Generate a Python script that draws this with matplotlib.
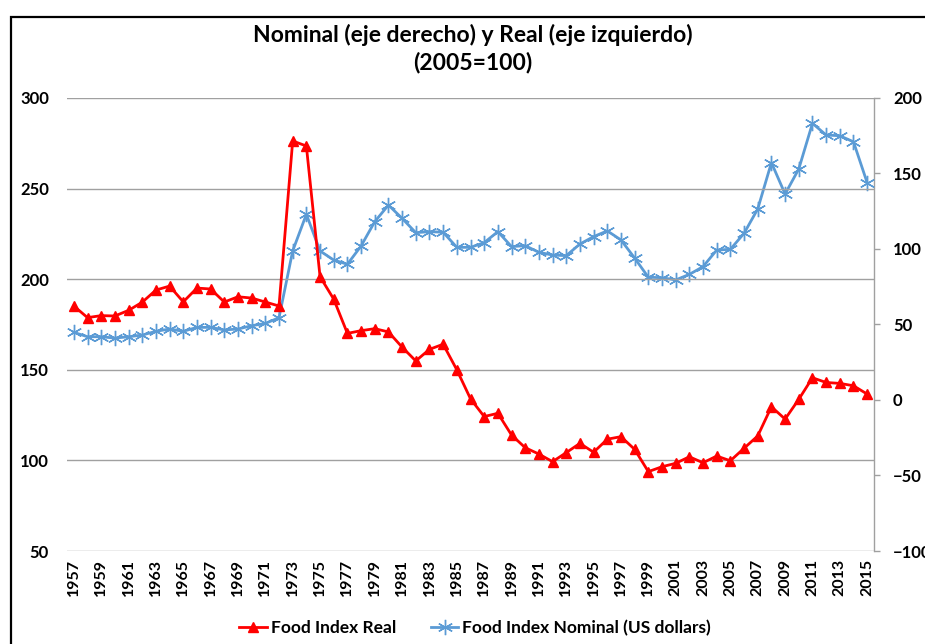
import matplotlib
matplotlib.use("Agg")
import matplotlib.pyplot as plt
from matplotlib.lines import Line2D
from matplotlib.patches import Rectangle

plt.rcParams['font.family'] = ['Lato', 'DejaVu Sans']

years = list(range(1957, 2016))

food_index_real = [
    185.2, 178.8, 179.9, 179.7, 182.8, 187.3, 194.0, 196.2, 187.5, 195.1,
    194.6, 187.4, 190.3, 189.6, 187.4, 185.2, 276.3, 273.5, 201.4, 189.0,
    170.1, 171.6, 172.7, 170.9, 162.5, 154.9, 161.3, 164.1, 150.0, 134.0,
    124.2, 126.0, 114.0, 107.0, 103.5, 99.3, 104.3, 109.4, 104.5, 111.7,
    113.1, 106.1, 93.8, 96.5, 98.4, 102.0, 98.7, 102.4, 99.8, 106.7,
    113.5, 129.6, 122.8, 133.7, 145.6, 143.0, 142.5, 141.2, 136.6,
]

food_index_nominal = [
    44.8, 41.9, 41.9, 41.0, 41.9, 43.0, 45.5, 47.0, 45.5, 48.1,
    48.1, 46.4, 47.0, 49.2, 50.7, 54.5, 98.7, 123.0, 98.7, 92.7,
    89.9, 102.0, 118.1, 129.1, 120.3, 110.8, 111.5, 111.1, 101.1, 101.1,
    104.2, 111.5, 101.6, 102.2, 97.8, 96.0, 95.6, 103.3, 108.2, 112.0,
    106.0, 94.0, 81.3, 81.0, 79.5, 83.2, 88.3, 99.3, 99.8, 110.4,
    126.5, 157.2, 136.4, 153.0, 183.2, 175.5, 175.0, 171.0, 143.9,
]

left_ticks = [50, 100, 150, 200, 250, 300]
right_ticks = [-100, -50, 0, 50, 100, 150, 200]
title_text = "Nominal (eje derecho) y Real (eje izquierdo)\n(2005=100)"
label_real = "Food Index Real"
label_nominal = "Food Index Nominal (US dollars)"

W, H = 925, 644
fig = plt.figure(figsize=(W / 100, H / 100), dpi=100)

# chart border (partly cropped on right / bottom)
fig.patches.append(Rectangle((11 / W, -0.1), 1.2, 1 - 17 / H + 0.1,
                             transform=fig.transFigure, fill=False,
                             edgecolor='black', linewidth=1.6))

left, right, top, bottom = 67 / W, 874 / W, 1 - 98 / H, 1 - 551 / H
ax = fig.add_axes([left, bottom, right - left, top - bottom])
ax2 = ax.twinx()

x = list(range(len(years)))

ax.set_ylim(50, 300)
ax.set_yticks(left_ticks)
ax.set_xlim(-0.5, len(years) - 0.5)
ax.grid(axis='y', color='#a0a0a0', linewidth=1.0)
ax.set_axisbelow(True)
for s in ax.spines.values():
    s.set_visible(False)
ax.tick_params(axis='y', length=0, pad=13, labelsize=12)
ax.set_xticks(x[::2])
ax.set_xticklabels([str(y) for y in years[::2]], rotation=90)
ax.tick_params(axis='x', length=0, pad=6, labelsize=11.5)
for lab in ax.get_yticklabels() + ax.get_xticklabels():
    lab.set_fontweight('bold')

ax2.set_ylim(-100, 200)
ax2.set_yticks(right_ticks)
for k, s in ax2.spines.items():
    s.set_visible(k == 'right')
ax2.spines['right'].set_color('#a0a0a0')
ax2.spines['right'].set_linewidth(1.0)
ax2.tick_params(axis='y', length=4.3, width=1.0, color='#a0a0a0',
                pad=9.4, labelsize=12, direction='out')
for lab in ax2.get_yticklabels():
    lab.set_fontweight('bold')

blue = '#5b9bd5'
red = '#ff0000'
star = (6, 2, 0)

ax2.plot(x, food_index_nominal, color=blue, linewidth=2.0, marker=star,
         markersize=11, markeredgewidth=1.0, markeredgecolor=blue, zorder=3)
ax.plot(x, food_index_real, color=red, linewidth=2.0, marker='^',
        markersize=6.5, zorder=4)
ax.set_zorder(ax2.get_zorder() + 1)
ax.patch.set_visible(False)

fig.text(473 / W, 1 - 49 / H, title_text, ha='center', va='center',
         fontsize=16.5, fontweight='bold', linespacing=1.32)

handles = [
    Line2D([], [], color=red, linewidth=2.0, marker='^', markersize=6.5),
    Line2D([], [], color=blue, linewidth=2.0, marker=star, markersize=11,
           markeredgewidth=1.0),
]
leg = fig.legend(handles, [label_real, label_nominal], loc='center',
                 bbox_to_anchor=(475 / W, 1 - 628 / H), ncol=2, frameon=False,
                 prop={'weight': 'bold', 'size': 12.5}, handlelength=1.6,
                 handletextpad=0.2, columnspacing=2.0)

fig.savefig('out.png', dpi=100)
